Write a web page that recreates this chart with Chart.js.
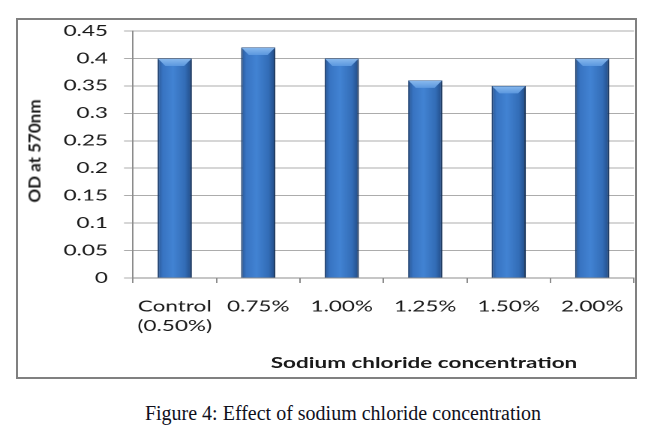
<!DOCTYPE html>
<html>
<head>
<meta charset="utf-8">
<script src="https://cdn.jsdelivr.net/npm/chart.js@4.4.1/dist/chart.umd.min.js"></script>
<style>
  html, body { margin: 0; padding: 0; background: #fff; }
  body { width: 659px; height: 444px; position: relative; overflow: hidden; }
  #frame {
    position: absolute; left: 16px; top: 18px; width: 621px; height: 361px;
    box-sizing: border-box; border: 2px solid #808080;
  }
  #wrap {
    position: absolute; left: 0; top: 0; height: 380px;
    transform-origin: 0 0;
  }
  #ytitle {
    position: absolute; left: 34px; top: 151px; white-space: nowrap;
    font: bold 17px Lato, sans-serif; line-height: 17px; color: #1a1a1a;
    transform: translate(-50%, -50%) rotate(-90deg);
  }
  #xtitle {
    position: absolute; left: 424px; top: 355px; white-space: nowrap;
    font: bold 15px Lato, sans-serif; line-height: 15px; color: #1a1a1a;
  }
  #caption {
    position: absolute; left: 343px; top: 403px; white-space: nowrap;
    font: 20px "Liberation Serif", serif; line-height: 20px; color: #10101c;
    transform: translateX(-50%);
  }
</style>
</head>
<body>
<div id="frame"></div>
<div id="wrap"><canvas id="chart"></canvas></div>
<div id="ytitle">OD at 570nm</div>
<div id="xtitle">Sodium chloride concentration</div>
<div id="caption">Figure 4: Effect of sodium chloride concentration</div>
<script>
  // data
  const categories = [["Control", "(0.50%)"], "0.75%", "1.00%", "1.25%", "1.50%", "2.00%"];
  const odValues = [0.40, 0.42, 0.40, 0.36, 0.35, 0.40];
  const yTicks = [0, 0.05, 0.1, 0.15, 0.2, 0.25, 0.3, 0.35, 0.4, 0.45];
  const yTickLabels = ["0", "0.05", "0.1", "0.15", "0.2", "0.25", "0.3", "0.35", "0.4", "0.45"];

  // the original picture is stretched sideways, so draw narrow and stretch
  const stretch = 1.5;
  const pageW = 659;
  const W = pageW / stretch;
  const barPct = 0.41;

  const wrap = document.getElementById("wrap");
  wrap.style.width = W + "px";
  wrap.style.transform = "scaleX(" + stretch + ")";
  const xt = document.getElementById("xtitle");
  xt.style.transform = "translateX(-50%) scaleX(" + stretch + ")";

  function barFill(context) {
    const chart = context.chart;
    const xs = chart.scales.x;
    if (!chart.chartArea || !xs) return "#3c7bc9";
    const cx = xs.getPixelForValue(context.dataIndex);
    const w = (xs.width / categories.length) * barPct;
    const g = chart.ctx.createLinearGradient(cx - w / 2, 0, cx + w / 2, 0);
    g.addColorStop(0, "#285694");
    g.addColorStop(0.15, "#3874c2");
    g.addColorStop(0.45, "#4283d3");
    g.addColorStop(0.8, "#336db7");
    g.addColorStop(1, "#214a84");
    return g;
  }

  // soft shadow behind bars and a light bevel on their tops
  const barLook = {
    id: "barLook",
    beforeDatasetsDraw(chart) {
      const ctx = chart.ctx;
      ctx.save();
      ctx.shadowColor = "rgba(0,0,0,0.35)";
      ctx.shadowBlur = 4;
      ctx.shadowOffsetX = 1.5;
      ctx.shadowOffsetY = 2;
    },
    afterDatasetsDraw(chart) {
      const ctx = chart.ctx;
      ctx.restore();
      const meta = chart.getDatasetMeta(0);
      const h = 7;
      const inset = 7 / stretch;
      meta.data.forEach((bar) => {
        const p = bar.getProps(["x", "y", "width"], true);
        const l = p.x - p.width / 2 + 0.5;
        const r = p.x + p.width / 2 - 0.5;
        const t = p.y + 0.5;
        const g = ctx.createLinearGradient(0, t, 0, t + h);
        g.addColorStop(0, "rgba(140,188,240,0.95)");
        g.addColorStop(1, "rgba(95,155,225,0.9)");
        ctx.save();
        ctx.beginPath();
        ctx.moveTo(l, t);
        ctx.lineTo(r, t);
        ctx.lineTo(r - inset, t + h);
        ctx.lineTo(l + inset, t + h);
        ctx.closePath();
        ctx.fillStyle = g;
        ctx.fill();
        ctx.restore();
      });
    },
  };

  const ctx = document.getElementById("chart").getContext("2d");
  new Chart(ctx, {
    type: "bar",
    data: {
      labels: categories,
      datasets: [
        {
          label: "OD at 570nm",
          data: odValues,
          backgroundColor: barFill,
          borderColor: "#1f4477",
          borderWidth: 1,
          categoryPercentage: 1,
          barPercentage: barPct,
        },
      ],
    },
    options: {
      responsive: true,
      maintainAspectRatio: false,
      animation: false,
      devicePixelRatio: 2,
      layout: { padding: { top: 31, right: W - 634 / stretch, bottom: 0, left: 0 } },
      plugins: {
        legend: { display: false },
        tooltip: { enabled: false },
      },
      scales: {
        x: {
          grid: {
            offset: true,
            drawOnChartArea: false,
            tickLength: 5,
            color: "#8c8c8c",
          },
          border: { display: true, color: "#8c8c8c" },
          ticks: {
            color: "#1a1a1a",
            font: { family: "Lato", size: 15, lineHeight: 1.3 },
            padding: 14,
            maxRotation: 0,
            autoSkip: false,
          },
          afterFit(scale) {
            scale.height = 380 - 278;
          },
        },
        y: {
          min: 0,
          max: 0.45,
          afterBuildTicks(scale) {
            scale.ticks = yTicks.map((v) => ({ value: v }));
          },
          grid: { color: "#acacac", tickLength: 6 },
          border: { display: true, color: "#8c8c8c" },
          ticks: {
            color: "#1a1a1a",
            font: { family: "Lato", size: 15 },
            padding: 16 / stretch,
            callback: (v, i) => yTickLabels[i],
          },
          afterFit(scale) {
            scale.width = 133 / stretch;
          },
        },
      },
    },
    plugins: [barLook],
  });
</script>
</body>
</html>
